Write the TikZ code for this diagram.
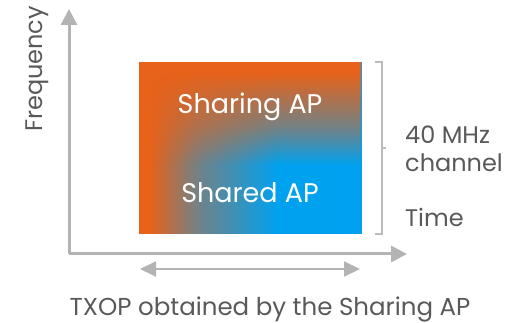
\documentclass[tikz,border=0pt]{standalone}
\usepackage{fontspec}
\setmainfont{Poppins}
\usetikzlibrary{fadings,arrows.meta}
\definecolor{orng}{HTML}{E8621A}
\definecolor{blu}{HTML}{00A2F0}
\definecolor{axisgray}{HTML}{B3B3B3}
\definecolor{txtgray}{HTML}{595959}
% fadings: the path box maps onto 25bp..75bp of the 100bp shading
\pgfdeclarehorizontalshading{fadeHsh}{100bp}{color(0bp)=(white); color(27.5bp)=(white); color(38bp)=(black!50); color(56bp)=(black); color(100bp)=(black)}
\pgfdeclarefading{fadeH}{\pgfuseshading{fadeHsh}}
\pgfdeclareverticalshading{fadeVsh}{100bp}{color(0bp)=(black); color(45bp)=(black); color(56bp)=(black!50); color(72bp)=(white); color(100bp)=(white)}
\pgfdeclarefading{fadeV}{\pgfuseshading{fadeVsh}}
\tikzset{
  axis/.style={draw=axisgray, line width=3pt, -{Triangle[length=16pt,width=16pt]}},
  span/.style={draw=axisgray, line width=2pt, {Triangle[length=16pt,width=15pt]}-{Triangle[length=16pt,width=15pt]}},
  brace/.style={draw=axisgray!90, line width=1.8pt},
  graytext/.style={text=txtgray, font=\fontsize{24}{28}\selectfont, inner sep=0pt},
  whitetext/.style={text=white, font=\fontsize{27}{32}\selectfont, inner sep=0pt},
}
\begin{document}
\begin{tikzpicture}[x=1pt,y=1pt]
\useasboundingbox (0,0) rectangle (510,323);
% coordinates
\coordinate (O) at (69,69);
\coordinate (ytip) at (69,314);
\coordinate (xtip) at (407,69);
\coordinate (bt) at (382,261);
\coordinate (bb) at (382,89);
\coordinate (sl) at (140,54);
\coordinate (sr) at (360,54);
% axes
\draw[draw=axisgray, line width=3pt, {Triangle[length=16pt,width=16pt]}-] (ytip) -- (O);
\draw[axis] (O) -- (xtip);
% shaded block
\fill[blu] (139,89) rectangle (362,261);
\fill[orng, path fading=fadeH] (139,89) rectangle (362,261);
\fill[orng, path fading=fadeV] (139,89) rectangle (362,261);
\draw[blu, line width=1pt] (361.5,89) -- (361.5,261);
\node[whitetext] (sharing) at (250,216) {Sharing AP};
\node[whitetext] (shared) at (250,130) {Shared AP};
% bracket
\draw[brace] (375,261) -- (bt) -- (bb) -- (375,89);
\draw[brace] (382,175) -- (386,175);
% labels
\node[graytext, rotate=90] (freq) at (37.5,254) {Frequency};
\node[graytext, anchor=west] (mhz) at (405,188) {40 MHz};
\node[graytext, anchor=west] (chan) at (405,160) {channel};
\node[graytext, anchor=west] (time) at (405,106) {Time};
\draw[span] (sl) -- (sr);
\node[graytext, font=\fontsize{24.5}{28}\selectfont, anchor=base] (txop) at (270,7.5) {TXOP obtained by the Sharing AP};
\end{tikzpicture}
\end{document}
